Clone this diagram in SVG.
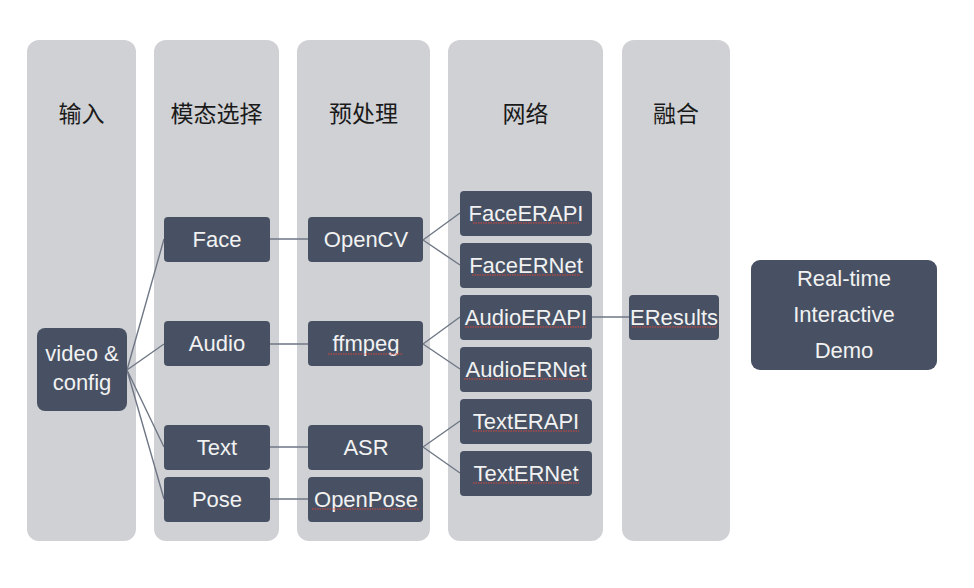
<svg xmlns="http://www.w3.org/2000/svg" width="974" height="588" viewBox="0 0 974 588">
<style>
.col{fill:#D0D1D5}
.hd{font-family:"Noto Sans CJK SC","Liberation Sans",sans-serif;font-size:23px;fill:#1A1A1A;text-anchor:middle}
.nd{fill:#475163}
.lb{font-family:"Liberation Sans","Noto Sans CJK SC",sans-serif;font-size:22px;fill:#F2F2F2;text-anchor:middle}
.cn{stroke:#6F7785;stroke-width:1.4;fill:none}
.sq{stroke:#D9463A;stroke-width:1.2;stroke-dasharray:1.5 1;fill:none}
</style>
<rect width="974" height="588" fill="#FFFFFF"/>
<g id="columns">
<rect class="col" x="27" y="40" width="109" height="501" rx="12"/>
<rect class="col" x="154" y="40" width="125" height="501" rx="12"/>
<rect class="col" x="297" y="40" width="133" height="501" rx="12"/>
<rect class="col" x="448" y="40" width="155" height="501" rx="12"/>
<rect class="col" x="622" y="40" width="108" height="501" rx="12"/>
<text class="hd" x="81.5" y="122">输入</text>
<text class="hd" x="216.5" y="122">模态选择</text>
<text class="hd" x="363.5" y="122">预处理</text>
<text class="hd" x="525.5" y="122">网络</text>
<text class="hd" x="676" y="122">融合</text>
</g>
<g id="connectors">
<path class="cn" d="M127,370 L164,239 M127,370 L164,344 M127,370 L164,447 M127,370 L164,499"/>
<path class="cn" d="M270,239 H308 M270,344 H308 M270,447 H308 M270,499 H308"/>
<path class="cn" d="M423,240 L460,213 M423,240 L460,265"/>
<path class="cn" d="M423,344 L460,317 M423,344 L460,369"/>
<path class="cn" d="M423,447 L460,421 M423,447 L460,473"/>
<path class="cn" d="M592,317 H629"/>
</g>
<g id="n-input"><rect class="nd" x="37" y="328" width="90" height="83" rx="8"/><text class="lb" x="82" y="361">video &amp;</text><text class="lb" x="82" y="390">config</text></g>
<g id="n-face"><rect class="nd" x="164" y="217" width="106" height="45" rx="4"/><text class="lb" x="217" y="247">Face</text></g>
<g id="n-audio"><rect class="nd" x="164" y="321" width="106" height="45" rx="4"/><text class="lb" x="217" y="351">Audio</text></g>
<g id="n-text"><rect class="nd" x="164" y="425" width="106" height="45" rx="4"/><text class="lb" x="217" y="455">Text</text></g>
<g id="n-pose"><rect class="nd" x="164" y="477" width="106" height="45" rx="4"/><text class="lb" x="217" y="507">Pose</text></g>
<g id="n-opencv"><rect class="nd" x="308" y="217" width="115" height="45" rx="4"/><text class="lb" x="366" y="247">OpenCV</text></g>
<g id="n-ffmpeg"><rect class="nd" x="308" y="321" width="115" height="45" rx="4"/><text class="lb" x="366" y="351">ffmpeg</text><path class="sq" d="M328,354 H403"/></g>
<g id="n-asr"><rect class="nd" x="308" y="425" width="115" height="45" rx="4"/><text class="lb" x="366" y="455">ASR</text></g>
<g id="n-openpose"><rect class="nd" x="308" y="477" width="115" height="45" rx="4"/><text class="lb" x="366" y="507">OpenPose</text><path class="sq" d="M312,509 H419"/></g>
<g id="n-faceerapi"><rect class="nd" x="460" y="191" width="132" height="45" rx="4"/><text class="lb" x="526" y="221">FaceERAPI</text><path class="sq" d="M473,223 H579"/></g>
<g id="n-faceernet"><rect class="nd" x="460" y="243" width="132" height="45" rx="4"/><text class="lb" x="526" y="273">FaceERNet</text><path class="sq" d="M472,275 H580"/></g>
<g id="n-audioerapi"><rect class="nd" x="460" y="295" width="132" height="45" rx="4"/><text class="lb" x="526" y="325">AudioERAPI</text><path class="sq" d="M465,327 H586"/></g>
<g id="n-audioernet"><rect class="nd" x="460" y="347" width="132" height="45" rx="4"/><text class="lb" x="526" y="377">AudioERNet</text><path class="sq" d="M464,379 H588"/></g>
<g id="n-texterapi"><rect class="nd" x="460" y="399" width="132" height="45" rx="4"/><text class="lb" x="526" y="429">TextERAPI</text><path class="sq" d="M473,431 H579"/></g>
<g id="n-textrnet"><rect class="nd" x="460" y="451" width="132" height="45" rx="4"/><text class="lb" x="526" y="481">TextERNet</text><path class="sq" d="M473,483 H579"/></g>
<g id="n-eresults"><rect class="nd" x="629" y="295" width="90" height="45" rx="4"/><text class="lb" x="674" y="325">EResults</text><path class="sq" d="M632,327 H717"/></g>
<g id="n-demo"><rect class="nd" x="751" y="260" width="186" height="110" rx="9"/><text class="lb" x="844" y="286">Real-time</text><text class="lb" x="844" y="322">Interactive</text><text class="lb" x="844" y="358">Demo</text></g>
</svg>
